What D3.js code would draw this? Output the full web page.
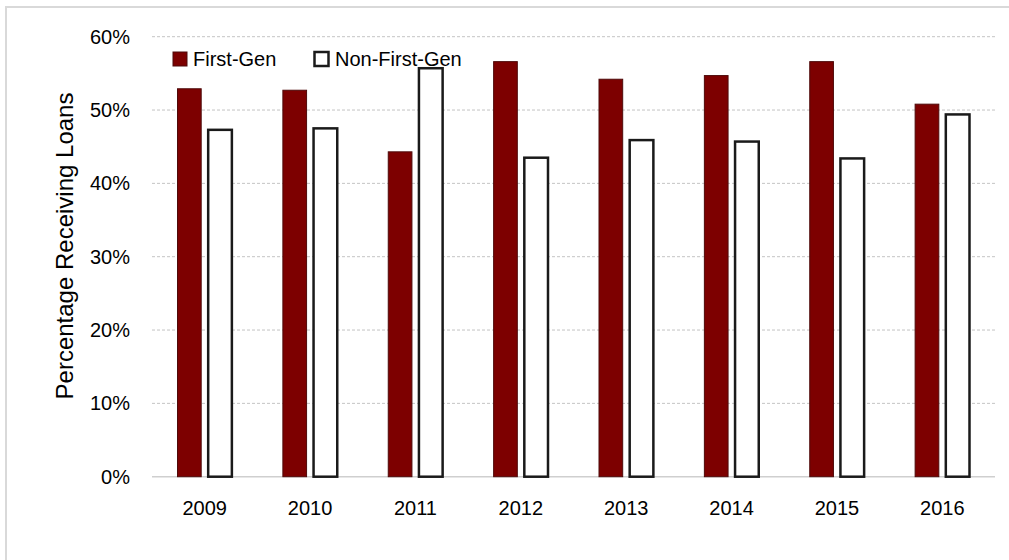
<!DOCTYPE html>
<html>
<head>
<meta charset="utf-8">
<script src="https://cdn.jsdelivr.net/npm/d3@7"></script>
<style>
  html, body { margin: 0; padding: 0; background: #fff; }
  svg { display: block; }
  text { font-family: "Liberation Sans", Arial, sans-serif; fill: #000; }
</style>
</head>
<body>
<svg id="chart" width="1009" height="560"></svg>
<script>
const years = ["2009", "2010", "2011", "2012", "2013", "2014", "2015", "2016"];
const seriesNames = ["First-Gen", "Non-First-Gen"];
const firstGen = [0.529, 0.527, 0.443, 0.566, 0.542, 0.547, 0.566, 0.508];
const nonFirstGen = [0.473, 0.475, 0.557, 0.435, 0.459, 0.457, 0.434, 0.494];
const yTicks = [0, 0.1, 0.2, 0.3, 0.4, 0.5, 0.6];

const svg = d3.select("#chart");

// chart area border
svg.append("rect")
  .attr("x", 6).attr("y", 7).attr("width", 1010).attr("height", 560)
  .attr("fill", "none").attr("stroke", "#d9d9d9").attr("stroke-width", 2);

const plotLeft = 152, plotRight = 995, plotTop = 36.7, plotBottom = 476.7;

const y = d3.scaleLinear().domain([0, 0.6]).range([plotBottom, plotTop]);
const x0 = d3.scaleBand().domain(years).range([plotLeft, plotRight])
  .paddingInner(0.484).paddingOuter(0.242);
const x1 = d3.scaleBand().domain(seriesNames).range([0, x0.bandwidth()])
  .paddingInner(0.228).paddingOuter(0);

// gridlines
svg.append("g").selectAll("line")
  .data(yTicks.filter(d => d > 0))
  .join("line")
  .attr("x1", plotLeft).attr("x2", plotRight)
  .attr("y1", d => y(d)).attr("y2", d => y(d))
  .attr("stroke", "#c4c4c4").attr("stroke-width", 1)
  .attr("stroke-dasharray", "3,2");

// y axis labels
const yAxis = d3.axisLeft(y).tickValues(yTicks).tickFormat(d3.format(".0%")).tickSize(0).tickPadding(22);
const gy = svg.append("g").attr("transform", `translate(${plotLeft},0)`).call(yAxis);
gy.select(".domain").remove();
gy.selectAll("text").style("font-size", "20px").style("font-family", "'Liberation Sans', Arial, sans-serif").attr("fill", "#000");

// x axis labels
const xAxis = d3.axisBottom(x0).tickSize(0).tickPadding(24);
const gx = svg.append("g").attr("transform", `translate(0,${plotBottom})`).call(xAxis);
gx.select(".domain").remove();
gx.selectAll("text").style("font-size", "20px").style("font-family", "'Liberation Sans', Arial, sans-serif").attr("fill", "#000");

// baseline
svg.append("line")
  .attr("x1", plotLeft).attr("x2", plotRight)
  .attr("y1", y(0)).attr("y2", y(0))
  .attr("stroke", "#cfcfcf").attr("stroke-width", 1.5);

// bars
const data = years.map((yr, i) => ({ year: yr, values: [firstGen[i], nonFirstGen[i]] }));
const groups = svg.append("g").selectAll("g")
  .data(data).join("g")
  .attr("transform", d => `translate(${x0(d.year)},0)`);

groups.append("rect")
  .attr("x", x1("First-Gen"))
  .attr("width", x1.bandwidth())
  .attr("y", d => y(d.values[0]))
  .attr("height", d => y(0) - y(d.values[0]))
  .attr("fill", "#7d0000")
  .attr("stroke", "#4e0a0a").attr("stroke-width", 1);

groups.append("rect")
  .attr("x", x1("Non-First-Gen"))
  .attr("width", x1.bandwidth())
  .attr("y", d => y(d.values[1]))
  .attr("height", d => y(0) - y(d.values[1]))
  .attr("fill", "#fff")
  .attr("stroke", "#1a1a1a").attr("stroke-width", 2.5);

// legend
const lg = svg.append("g");
lg.append("rect").attr("x", 173).attr("y", 52).attr("width", 14).attr("height", 14)
  .attr("fill", "#7d0000").attr("stroke", "#4e0a0a").attr("stroke-width", 1);
lg.append("text").attr("x", 193).attr("y", 65.5).style("font-size", "20px").text(seriesNames[0]);
lg.append("rect").attr("x", 314.5).attr("y", 52).attr("width", 14).attr("height", 14)
  .attr("fill", "#fff").attr("stroke", "#1a1a1a").attr("stroke-width", 2.5);
lg.append("text").attr("x", 335).attr("y", 65.5).style("font-size", "20px").text(seriesNames[1]);

// y axis title
svg.append("text")
  .attr("transform", `translate(73,246) rotate(-90)`)
  .attr("text-anchor", "middle")
  .style("font-size", "24px")
  .text("Percentage Receiving Loans");
</script>
</body>
</html>
